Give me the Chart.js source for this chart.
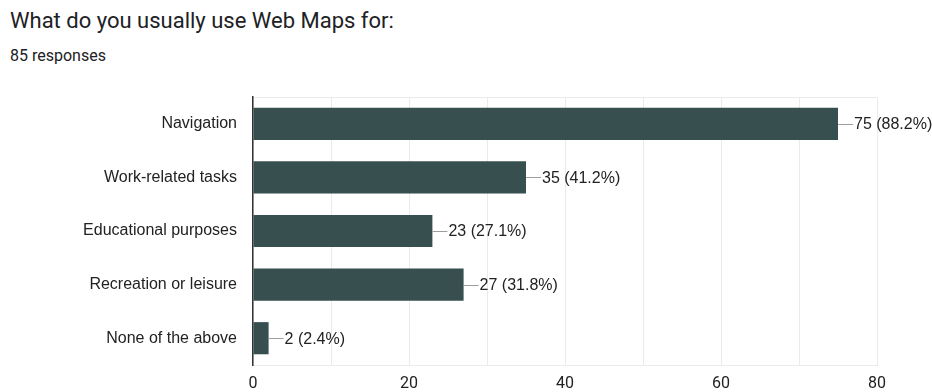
<!DOCTYPE html>
<html>
<head>
<meta charset="utf-8">
<script src="https://cdn.jsdelivr.net/npm/chart.js@4.4.1/dist/chart.umd.min.js"></script>
<style>
  html, body { margin: 0; padding: 0; background: #fff; }
  #wrap { position: relative; width: 932px; height: 392px; overflow: hidden; }
  #title { position: absolute; left: 10px; top: 8px; font: 22px Roboto, sans-serif; color: #202124; white-space: nowrap; }
  #sub { position: absolute; left: 10px; top: 46px; font: 16px Roboto, sans-serif; color: #202124; white-space: nowrap; }
  canvas { position: absolute; left: 0; top: 0; }
</style>
</head>
<body>
<div id="wrap">
  <div id="title">What do you usually use Web Maps for:</div>
  <div id="sub">85 responses</div>
  <canvas id="usesChart" width="932" height="392"></canvas>
</div>
<script>
const categories = ['Navigation', 'Work-related tasks', 'Educational purposes', 'Recreation or leisure', 'None of the above'];
const counts = [75, 35, 23, 27, 2];
const percents = ['88.2%', '41.2%', '27.1%', '31.8%', '2.4%'];
const xTicks = [0, 20, 40, 60, 80];

const labelFont = '16px "Liberation Sans", Arial, sans-serif';

// leader line + "count (pct)" to the right of each bar
const valueLabels = {
  id: 'valueLabels',
  afterDatasetsDraw(chart) {
    const ctx = chart.ctx;
    const meta = chart.getDatasetMeta(0);
    ctx.save();
    meta.data.forEach((bar, i) => {
      const x = bar.x, y = bar.y;
      ctx.strokeStyle = '#9e9e9e';
      ctx.lineWidth = 1;
      ctx.beginPath();
      ctx.moveTo(x, Math.round(y) + 0.5);
      ctx.lineTo(x + 15, Math.round(y) + 0.5);
      ctx.stroke();
      ctx.fillStyle = '#222';
      ctx.font = labelFont;
      ctx.textAlign = 'left';
      ctx.textBaseline = 'middle';
      ctx.fillText(counts[i] + ' (' + percents[i] + ')', x + 16, y + 1);
    });
    ctx.restore();
  }
};

new Chart('usesChart', {
  type: 'bar',
  data: {
    labels: categories,
    datasets: [{
      data: counts,
      backgroundColor: '#374f4f',
      borderWidth: 0,
      barPercentage: 0.6,
      categoryPercentage: 1
    }]
  },
  options: {
    indexAxis: 'y',
    responsive: false,
    animation: false,
    layout: { padding: { top: 97, right: 55, left: 0, bottom: 0 } },
    plugins: { legend: { display: false }, tooltip: { enabled: false } },
    scales: {
      x: {
        min: 0,
        max: 80,
        afterFit: s => { s.height = 27; },
        afterBuildTicks: s => { s.ticks = [0, 10, 20, 30, 40, 50, 60, 70, 80].map(v => ({ value: v })); },
        ticks: {
          padding: 9,
          color: '#222',
          font: { family: 'Roboto', size: 16 },
          callback: v => xTicks.includes(v) ? String(v) : ''
        },
        grid: { color: '#ebebeb', drawTicks: false },
        border: { color: '#ebebeb' }
      },
      y: {
        afterFit: s => { s.width = 253; },
        ticks: {
          padding: 16,
          color: '#222',
          font: { family: '"Liberation Sans", Arial, sans-serif', size: 16 }
        },
        grid: {
          drawTicks: false,
          color: c => c.index === 0 ? '#ebebeb' : 'rgba(0,0,0,0)'
        },
        border: { color: '#333', width: 1.5 }
      }
    }
  },
  plugins: [valueLabels]
});
</script>
</body>
</html>
